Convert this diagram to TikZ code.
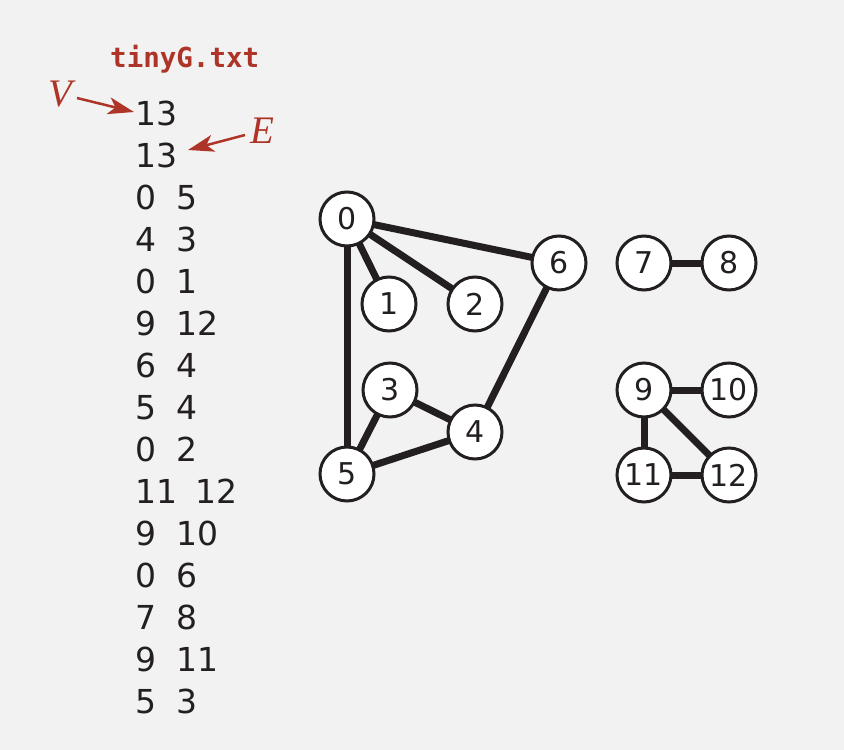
\documentclass[tikz,border=0pt]{standalone}
\usepackage{fontspec}
\setmainfont{DejaVu Sans}
\newfontfamily\codefont{DejaVu Sans Mono}
\newfontfamily\letterfont{Liberation Serif}
\usetikzlibrary{backgrounds,arrows.meta}
\definecolor{bg}{RGB}{242,242,242}
\definecolor{bookred}{RGB}{173,52,38}
\definecolor{ink}{RGB}{35,31,32}
\begin{document}
\begin{tikzpicture}[x=1pt,y=-1pt,
  vtx/.style={circle,draw=ink,line width=3pt,fill=white,minimum size=54pt,inner sep=0pt,font=\fontsize{30}{36}\selectfont,text=ink},
  gedge/.style={draw=ink,line width=7pt},
  num/.style={anchor=base west,inner sep=0pt,font=\fontsize{33}{40}\selectfont,text=ink},
  lbl/.style={text=bookred,inner sep=0pt,anchor=base,font=\letterfont\itshape\fontsize{39}{44}\selectfont},
  ptr/.style={draw=bookred,line width=2.5pt,-{Stealth[length=26pt,width=17pt,inset=7pt]}}]
\useasboundingbox (0,0) rectangle (844,750);
% title
\node[anchor=base west,inner sep=0pt,text=bookred,font=\codefont\bfseries\fontsize{27.5}{32}\selectfont] (title) at (110,67) {tinyG.txt};
% file lines
\foreach \a/\b/\xb [count=\i from 0] in {13//176,13//176,0/5/176,4/3/176,0/1/176,9/12/176,6/4/176,5/4/176,0/2/176,11/12/195,9/10/176,0/6/176,7/8/176,9/11/176,5/3/176}{
  \node[num] (la\i) at (135,125+42*\i) {\a};
  \node[num] (lb\i) at (\xb,125+42*\i) {\b};
}
% V and E labels
\node[lbl] (V) at (60,106) {V};
\node[lbl] (E) at (262,143) {E};
\coordinate (vs) at (77,98);
\coordinate (vt) at (134,112);
\coordinate (es) at (245,135);
\coordinate (et) at (188,150);
\draw[ptr] (vs) -- (vt);
\draw[ptr] (es) -- (et);
% vertices
\node[vtx] (n0) at (347,219) {0};
\node[vtx] (n1) at (389,304) {1};
\node[vtx] (n2) at (475,304) {2};
\node[vtx] (n3) at (390,390) {3};
\node[vtx] (n4) at (475,432) {4};
\node[vtx] (n5) at (347,474) {5};
\node[vtx] (n6) at (559,263) {6};
\node[vtx] (n7) at (644,263) {7};
\node[vtx] (n8) at (729,263) {8};
\node[vtx] (n9) at (644,390) {9};
\node[vtx] (n10) at (729,390) {10};
\node[vtx] (n11) at (644,475) {11};
\node[vtx] (n12) at (729,475) {12};
\begin{scope}[on background layer]
  \fill[bg] (0,0) rectangle (844,750);
  \foreach \u/\v in {0/5,4/3,0/1,9/12,6/4,5/4,0/2,11/12,9/10,0/6,7/8,9/11,5/3}
    \draw[gedge] (n\u.center) -- (n\v.center);
\end{scope}
\end{tikzpicture}
\end{document}
